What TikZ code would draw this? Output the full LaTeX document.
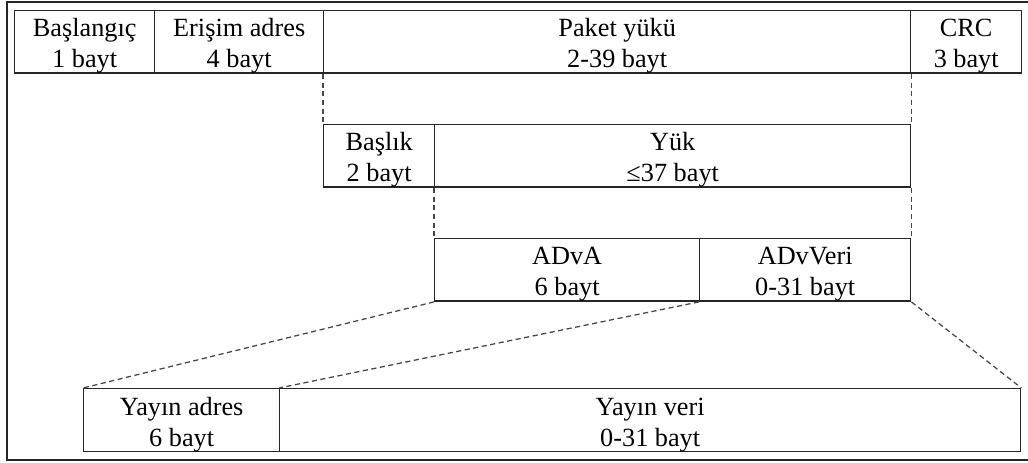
\documentclass[tikz,border=0pt]{standalone}
\usepackage{fontspec}
\setmainfont{Liberation Serif}
\usetikzlibrary{calc}

% One field of a packet layout: name, left x, right x, top y, two text lines
\newcommand\pktfield[6]{%
  \node[cell, minimum width={(#3-#2)*0.75pt}, anchor=north west] (#1) at (#2,#4) {};
  \node[celltext] (#1-a) at ($(#1.north)+(0,27)$) {#5};
  \node[celltext] (#1-b) at ($(#1.north)+(0,58)$) {#6};
}

\begin{document}
\begin{tikzpicture}[x=0.75pt, y=-0.75pt,
  cell/.style={draw=black!85, line width=1.05pt, rectangle, inner sep=0pt,
               minimum height={62.5*0.75pt}},
  celltext/.style={anchor=base, inner sep=0pt,
               font=\fontsize{19.7}{23}\selectfont, text=black},
  zoomline/.style={draw=black!72, line width=0.95pt, dash pattern=on 3.9pt off 2.6pt},
  frame/.style={draw=black!85, line width=1.7pt}]
\useasboundingbox (0,0) rectangle (1028,463);
\draw[frame] (7,2) rectangle (1036,460);

% Link layer packet
\pktfield{bas}{14}{154}{10}{Başlangıç}{1 bayt}
\pktfield{eri}{154}{323}{10}{Erişim adres}{4 bayt}
\pktfield{pay}{323}{910}{10}{Paket yükü}{2-39 bayt}
\pktfield{crc}{910}{1021}{10}{CRC}{3 bayt}

% Packet payload
\pktfield{hdr}{323}{434}{124}{Başlık}{2 bayt}
\pktfield{yuk}{434}{910}{124}{Yük}{≤37 bayt}

% Advertising payload
\pktfield{adva}{434}{699}{238}{ADvA}{6 bayt}
\pktfield{advd}{699}{910}{238}{ADvVeri}{0-31 bayt}

% Advertising data
\pktfield{yadr}{83}{279}{388}{Yayın adres}{6 bayt}
\pktfield{yver}{279}{1020}{388}{Yayın veri}{0-31 bayt}

% Expansion lines
\draw[zoomline] (pay.south west) -- (hdr.north west);
\draw[zoomline] (pay.south east) -- (yuk.north east);
\draw[zoomline] (yuk.south west) -- (adva.north west);
\draw[zoomline] (yuk.south east) -- (advd.north east);
\draw[zoomline] (adva.south west) -- (yadr.north west);
\draw[zoomline] (advd.south west) -- (yver.north west);
\draw[zoomline] (advd.south east) -- (yver.north east);
\end{tikzpicture}
\end{document}
